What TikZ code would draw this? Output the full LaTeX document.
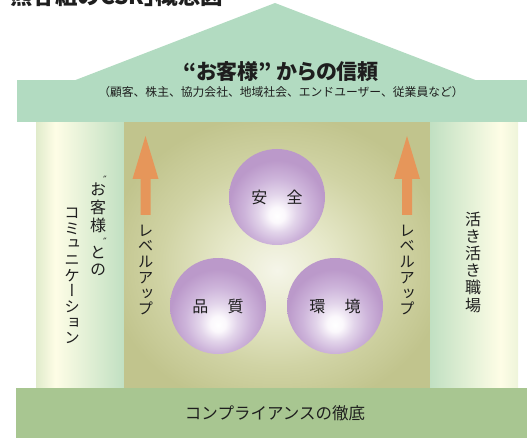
\documentclass[tikz,border=0pt]{standalone}
\usepackage{fontspec}
\newfontfamily\jp{Noto Sans CJK JP}
\newfontfamily\jpp[RawFeature=+palt]{Noto Sans CJK JP}
\newfontfamily\jpv[RawFeature=+vert]{Noto Sans CJK JP}
\newfontfamily\djv{DejaVu Sans}
\definecolor{roofc}{HTML}{B2DBC1}
\definecolor{basec}{HTML}{A8C691}
\definecolor{arrowc}{HTML}{E6965A}
\definecolor{txt}{HTML}{1E1E1E}
\definecolor{lpa}{HTML}{E0EBCB}
\definecolor{cream}{HTML}{FEFDE6}
\definecolor{lpb}{HTML}{C1E0C2}
\definecolor{rpb}{HTML}{EEF4DA}
\definecolor{cza}{HTML}{F5F5E9}
\definecolor{czb}{HTML}{E6E8C9}
\definecolor{czc}{HTML}{D0D3A4}
\definecolor{czd}{HTML}{C1C48D}
\definecolor{bla}{HTML}{FBF8FC}
\definecolor{blb}{HTML}{E2D4EA}
\definecolor{blc}{HTML}{CDB4DA}
\definecolor{bld}{HTML}{BB99CA}
\pgfdeclarehorizontalshading{leftpillar}{100bp}{color(0bp)=(lpa); color(25bp)=(lpa); color(36bp)=(cream); color(75bp)=(lpb); color(100bp)=(lpb)}
\pgfdeclarehorizontalshading{rightpillar}{100bp}{color(0bp)=(lpb); color(25bp)=(lpb); color(65bp)=(cream); color(75bp)=(rpb); color(100bp)=(rpb)}
\pgfdeclareradialshading{centerbg}{\pgfpoint{0bp}{-3bp}}{color(0bp)=(cza); color(9bp)=(czb); color(19bp)=(czc); color(28bp)=(czd); color(60bp)=(czd)}
\pgfdeclareradialshading{purpleball}{\pgfpoint{0bp}{-10bp}}{color(0bp)=(white); color(4bp)=(bla); color(10bp)=(blb); color(17bp)=(blc); color(25bp)=(bld); color(60bp)=(bld)}
\tikzset{
  vt/.style={font=\jpv\fontsize{15.5pt}{15.7pt}\selectfont, align=center, inner sep=0pt, text=txt},
  vtb/.style={font=\jpv\fontsize{16pt}{17.2pt}\selectfont, align=center, inner sep=0pt, text=txt},
  vtc/.style={font=\jpv\fontsize{16pt}{18pt}\selectfont, align=center, inner sep=0pt, text=txt},
  vtd/.style={font=\jpv\fontsize{16pt}{17pt}\selectfont, align=center, inner sep=0pt, text=txt},
  qmark/.style={font=\djv\fontsize{10pt}{10pt}\selectfont, inner sep=0pt, text=txt},
  ballnode/.style={circle, minimum size=96pt, inner sep=0pt, shading=purpleball, font=\jp\fontsize{16pt}{16pt}\selectfont, text=txt},
  upbar/.style={fill=arrowc}
}
\begin{document}
\begin{tikzpicture}[x=1pt,y=-1pt]
\useasboundingbox (0,0) rectangle (527,438);
\begin{scope}
\clip (0,0) rectangle (527,438);
% pillars and centre
\shade[shading=leftpillar] (36,121) rectangle (124,388);
\shade[shading=centerbg] (124,121) rectangle (430,388);
\shade[shading=rightpillar] (430,121) rectangle (518,388);
% roof
\fill[roofc] (73,81) -- (275,3) -- (478,81) -- cycle;
\fill[roofc] (17,80.5) rectangle (527,122);
% base
\fill[basec] (16,388) rectangle (527,438);
% arrows
\fill[upbar] (145.5,136) -- (158.5,179) -- (150.5,179) -- (150.5,215) -- (140.5,215) -- (140.5,179) -- (132.5,179) -- cycle;
\fill[upbar] (407,136) -- (420,179) -- (412,179) -- (412,215) -- (402,215) -- (402,179) -- (394,179) -- cycle;
% caption at top left
\node[anchor=base west, inner sep=0pt, font=\jpp\bfseries\fontsize{22.5pt}{22.5pt}\selectfont, text=txt] (cap) at (-1,5) {「熊谷組のCSR」概念図};
\end{scope}
% roof texts
\node[font=\jpp\bfseries\fontsize{21pt}{21pt}\selectfont, text=txt, inner sep=0pt] (trust) at (281,72) {“お客様” からの信頼};
\node[font=\jp\fontsize{11.8pt}{11.8pt}\selectfont, text=txt, inner sep=0pt] (trustsub) at (281,92) {（顧客、株主、協力会社、地域社会、エンドユーザー、従業員など）};
% base text
\node[font=\jp\fontsize{16.5pt}{16.5pt}\selectfont, text=txt, inner sep=0pt] (comp) at (275,413) {コンプライアンスの徹底};
% circles
\node[ballnode] (safe) at (277,197) {安\hspace{1.2em}全};
\node[ballnode] (quality) at (218,306) {品\hspace{1.2em}質};
\node[ballnode] (env) at (335,306) {環\hspace{1.2em}境};
% vertical texts
\node[vt] (lvl1) at (145.5,270) {レ\\ベ\\ル\\ア\\ッ\\プ};
\node[vt] (lvl2) at (407,270) {レ\\ベ\\ル\\ア\\ッ\\プ};
\node[vtb] (work) at (473,262) {活\\き\\活\\き\\職\\場};
\node[vtc] (cust) at (98,208) {お\\客\\様};
\node[vtd] (custto) at (98,261) {と\\の};
\node[qmark] (qopen) at (105,180) {″};
\node[qmark] (qclose) at (105,242) {″};
\node[vt] (comm) at (72,276) {コ\\ミ\\ュ\\ニ\\ケ\\ー\\シ\\ョ\\ン};
\end{tikzpicture}
\end{document}
